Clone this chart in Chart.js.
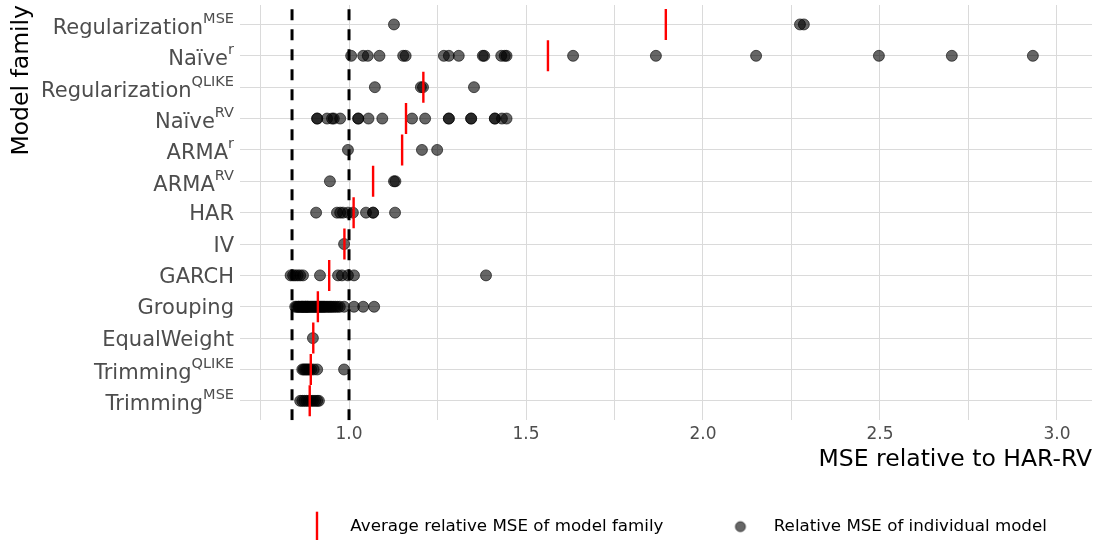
<!DOCTYPE html>
<html>
<head>
<meta charset="utf-8">
<script src="https://cdn.jsdelivr.net/npm/chart.js@4.4.0/dist/chart.umd.min.js"></script>
<style>
  html, body { margin: 0; padding: 0; background: #fff; }
</style>
</head>
<body>
<canvas id="myChart" width="1095" height="540"></canvas>
<script>
// model families, top to bottom
const families = ['Regularization', 'Naïve', 'Regularization', 'Naïve', 'ARMA', 'ARMA', 'HAR', 'IV', 'GARCH', 'Grouping', 'EqualWeight', 'Trimming', 'Trimming'];
const familySup = ['MSE', 'r', 'QLIKE', 'RV', 'r', 'RV', '', '', '', '', '', 'QLIKE', 'MSE'];

// relative MSE of individual models
const regMse = [1.127, 2.274, 2.285];
const naiveR = [1.006, 1.04, 1.053, 1.086, 1.153, 1.16, 1.268, 1.282, 1.31, 1.378, 1.382, 1.43, 1.44, 1.445, 1.633, 1.867, 2.15, 2.497, 2.703, 2.932];
const regQlike = [1.073, 1.203, 1.209, 1.353];
const naiveRv = [0.91, 0.91, 0.938, 0.952, 0.957, 0.975, 1.026, 1.026, 1.055, 1.094, 1.178, 1.215, 1.282, 1.282, 1.345, 1.345, 1.412, 1.412, 1.432, 1.445];
const armaR = [0.997, 1.206, 1.249];
const armaRv = [0.946, 1.127, 1.131];
const har = [0.907, 0.966, 0.975, 0.983, 0.997, 1.011, 1.048, 1.068, 1.068, 1.13];
const iv = [0.986];
const garch = [0.835, 0.842, 0.848, 0.855, 0.862, 0.87, 0.918, 0.969, 0.98, 0.997, 1.014, 1.387];
const grouping = [0.848, 0.852, 0.856, 0.858, 0.86, 0.864, 0.866, 0.868, 0.87, 0.872, 0.875, 0.877, 0.878, 0.881, 0.883, 0.884, 0.887, 0.89, 0.893, 0.896, 0.899, 0.902, 0.905, 0.908, 0.911, 0.914, 0.917, 0.92, 0.923, 0.926, 0.929, 0.932, 0.936, 0.94, 0.944, 0.948, 0.952, 0.957, 0.962, 0.968, 0.974, 0.986, 1.014, 1.04, 1.071];
const equalWeight = [0.898];
const trimQlike = [0.868, 0.872, 0.876, 0.88, 0.884, 0.888, 0.893, 0.9, 0.91, 0.986];
const trimMse = [0.862, 0.868, 0.874, 0.88, 0.886, 0.892, 0.898, 0.904, 0.91, 0.915];
const familyPoints = [regMse, naiveR, regQlike, naiveRv, armaR, armaRv, har, iv, garch, grouping, equalWeight, trimQlike, trimMse];

// average relative MSE per family (red marks)
const familyMeans = [1.895, 1.562, 1.21, 1.161, 1.15, 1.068, 1.013, 0.987, 0.944, 0.912, 0.899, 0.892, 0.889];

// dashed reference lines
const refLines = [0.839, 1.0];

const xTicks = [0.75, 1.0, 1.25, 1.5, 1.75, 2.0, 2.25, 2.5, 2.75, 3.0];
const xLabels = ['', '1.0', '', '1.5', '', '2.0', '', '2.5', '', '3.0'];

const FONT = '"DejaVu Sans", sans-serif';
const yMin = -0.62, yMax = 12.62;
const rowY = i => families.length - 1 - i; // first family on top

// legend symbols
function legendSymbol(w, h, draw) {
  const c = document.createElement('canvas');
  c.width = w; c.height = h;
  draw(c.getContext('2d'));
  return c;
}
const symLine = legendSymbol(90, 32, g => {
  g.strokeStyle = '#ff0000'; g.lineWidth = 2.4;
  g.beginPath(); g.moveTo(65, 1); g.lineTo(65, 31); g.stroke();
});
const symDot = legendSymbol(90, 14, g => {
  g.fillStyle = 'rgba(0,0,0,0.6)'; g.strokeStyle = 'rgba(0,0,0,0.6)';
  g.beginPath(); g.arc(65, 7, 5, 0, Math.PI * 2); g.fill(); g.stroke();
});

// y labels with superscripts
const yLabelPlugin = {
  id: 'yLabels',
  afterDraw(chart) {
    const { ctx, scales: { y }, chartArea } = chart;
    ctx.save();
    ctx.fillStyle = '#4d4d4d';
    ctx.textAlign = 'right';
    ctx.textBaseline = 'alphabetic';
    families.forEach((name, i) => {
      const py = y.getPixelForValue(rowY(i));
      const xr = chartArea.left - 6;
      const sup = familySup[i];
      let supW = 0;
      let base = py + 7.5;
      if (sup) {
        base = py + 9.5;
        ctx.font = '14.5px ' + FONT;
        supW = ctx.measureText(sup).width;
        ctx.fillText(sup, xr, base - 11);
      }
      ctx.font = '21px ' + FONT;
      ctx.fillText(name, xr - supW, base);
    });
    ctx.restore();
  }
};

const ctx = document.querySelector('#myChart');

new Chart(ctx, {
  type: 'scatter',
  data: {
    datasets: [
      {
        label: 'Average relative MSE of model family',
        data: familyMeans.map((v, i) => ({ x: v, y: rowY(i) })),
        pointStyle: 'line',
        pointRotation: 90,
        pointRadius: 15.5,
        borderColor: '#ff0000',
        backgroundColor: '#ff0000',
        pointBorderWidth: 2.4,
        order: 1
      },
      {
        label: 'Relative MSE of individual model',
        data: familyPoints.flatMap((vals, i) => vals.map(v => ({ x: v, y: rowY(i) }))),
        pointRadius: 5.5,
        backgroundColor: 'rgba(0,0,0,0.6)',
        borderColor: 'rgba(0,0,0,0.6)',
        pointBorderWidth: 1,
        order: 2
      },
      ...refLines.map(v => ({
        label: '',
        data: [{ x: v, y: yMin }, { x: v, y: yMax }],
        showLine: true,
        borderColor: '#000',
        borderWidth: 3,
        borderDash: [11, 9],
        pointRadius: 0,
        order: 0
      }))
    ]
  },
  options: {
    responsive: false,
    animation: false,
    events: [],
    layout: { autoPadding: false, padding: { top: 5, right: 3, left: 0, bottom: -5 } },
    scales: {
      x: {
        type: 'linear',
        min: 0.692,
        max: 3.099,
        afterBuildTicks: s => { s.ticks = xTicks.map(v => ({ value: v })); },
        afterFit: s => { s.height = 86; },
        grid: { color: '#dadada', lineWidth: 1, drawTicks: false },
        border: { display: false },
        ticks: {
          padding: 4,
          color: '#4d4d4d',
          font: { family: FONT, size: 17 },
          callback: (v, i) => xLabels[i]
        },
        title: {
          display: true,
          text: 'MSE relative to HAR-RV',
          align: 'end',
          color: '#000',
          font: { family: FONT, size: 23.5 },
          padding: { top: 0, bottom: 32 }
        }
      },
      y: {
        type: 'linear',
        min: yMin,
        max: yMax,
        afterBuildTicks: s => { s.ticks = families.map((f, i) => ({ value: i })); },
        afterFit: s => { s.width = 240; },
        grid: { color: '#dadada', lineWidth: 1, drawTicks: false },
        border: { display: false },
        ticks: { display: false },
        title: {
          display: true,
          text: 'Model family',
          align: 'end',
          color: '#000',
          font: { family: FONT, size: 23.5 },
          padding: { top: 7.5, bottom: 0 }
        }
      }
    },
    plugins: {
      tooltip: { enabled: false },
      legend: {
        position: 'bottom',
        align: 'start',
        fullSize: false,
        labels: {
          usePointStyle: true,
          pointStyleWidth: 90,
          padding: 12,
          color: '#000',
          font: { family: FONT, size: 16.7 },
          generateLabels: () => [
            { text: 'Average relative MSE of model family', pointStyle: symLine, rotation: 0, datasetIndex: 0, hidden: false, lineWidth: 0 },
            { text: 'Relative MSE of individual model', pointStyle: symDot, rotation: 0, datasetIndex: 1, hidden: false, lineWidth: 0 }
          ]
        }
      }
    }
  },
  plugins: [yLabelPlugin]
});
</script>
</body>
</html>
